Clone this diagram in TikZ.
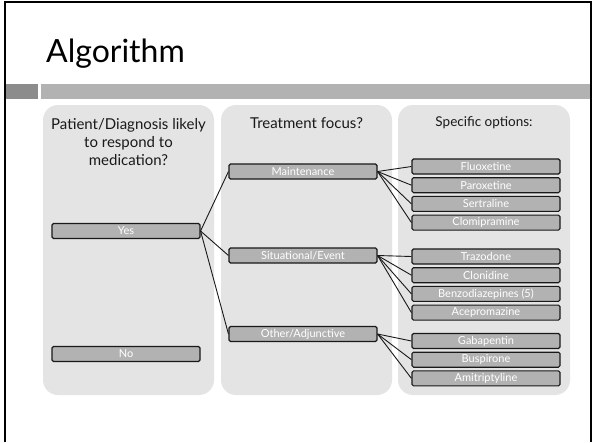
\documentclass[tikz,border=0pt]{standalone}
\usepackage{fontspec}
\setmainfont{Lato}
\usetikzlibrary{positioning}
\definecolor{panelgray}{HTML}{E4E4E4}
\definecolor{boxgray}{HTML}{B2B2B2}
\definecolor{bardark}{HTML}{8C8C8C}
\definecolor{barlight}{HTML}{B2B2B2}

\begin{document}
\begin{tikzpicture}[x=1pt,y=-1pt,node distance=2.6pt]
  \tikzstyle{panel}=[fill=panelgray,rounded corners=15pt]
  \tikzstyle{choice}=[draw=black!90,line width=1.1pt,fill=boxgray,rounded corners=1.5pt,
    minimum width=148pt,minimum height=15pt,inner sep=0pt,text=white,
    font=\fontsize{11}{12}\selectfont]
  \tikzstyle{header}=[align=center,anchor=north,text=black!90,
    font=\fontsize{15}{18}\selectfont]
  \tikzstyle{link}=[draw=black!90,line width=0.9pt]

  \useasboundingbox (0,0) rectangle (592,442);
  \fill[white] (0,0) rectangle (592,442);
  \draw[line width=2pt] (4.5,442) -- (4.5,2) -- (590.5,2) -- (590.5,442);

  % title and bar
  \node[anchor=base west,inner sep=0pt,font=\fontsize{32}{36}\selectfont] (title) at (46,62) {Algorithm};
  \fill[bardark] (5.5,84) rectangle (38,99);
  \fill[barlight] (41,84) rectangle (589.5,99);

  % columns
  \fill[panel] (43,105) rectangle (214,395);
  \fill[panel] (221,105) rectangle (392,395);
  \fill[panel] (398,105) rectangle (570,395);

  \node[header] (h_1) at (128.5,114.5) {Patient/Diagnosis likely\\to respond to\\medication?};
  \node[header] (h_2) at (306.5,114.5) {Treatment focus?};
  \node[header,font=\fontsize{13.5}{16}\selectfont] (h_3) at (484,113) {Specific options:};

  % decisions
  \node[choice] (yes) at (126,231) {Yes};
  \node[choice] (no)  at (126,354) {No};

  \node[choice] (maint) at (303,171.5) {Maintenance};
  \node[choice] (situ)  at (303,255.5) {Situational/Event};
  \node[choice] (other) at (303,334)   {Other/Adjunctive};

  % options
  \node[choice] (o_1) at (486,166.5) {Fluoxetine};
  \node[choice] (o_2) [below=of o_1] {Paroxetine};
  \node[choice] (o_3) [below=of o_2] {Sertraline};
  \node[choice] (o_4) [below=of o_3] {Clomipramine};

  \node[choice] (o_5) at (486,256.5) {Trazodone};
  \node[choice] (o_6) [below=of o_5] {Clonidine};
  \node[choice] (o_7) [below=of o_6] {Benzodiazepines (5)};
  \node[choice] (o_8) [below=of o_7] {Acepromazine};

  \node[choice] (o_9)  at (486,341) {Gabapentin};
  \node[choice] (o_10) [below=of o_9]  {Buspirone};
  \node[choice] (o_11) [below=of o_10] {Amitriptyline};

  \path[link]
  (yes.east) edge (maint.west)
  (yes.east) edge (situ.west)
  (yes.east) edge (other.west)
  (maint.east) edge (o_1.west)
  (maint.east) edge (o_2.west)
  (maint.east) edge (o_3.west)
  (maint.east) edge (o_4.west)
  (situ.east) edge (o_5.west)
  (situ.east) edge (o_6.west)
  (situ.east) edge (o_7.west)
  (situ.east) edge (o_8.west)
  (other.east) edge (o_9.west)
  (other.east) edge (o_10.west)
  (other.east) edge (o_11.west)
  ;
\end{tikzpicture}
\end{document}
